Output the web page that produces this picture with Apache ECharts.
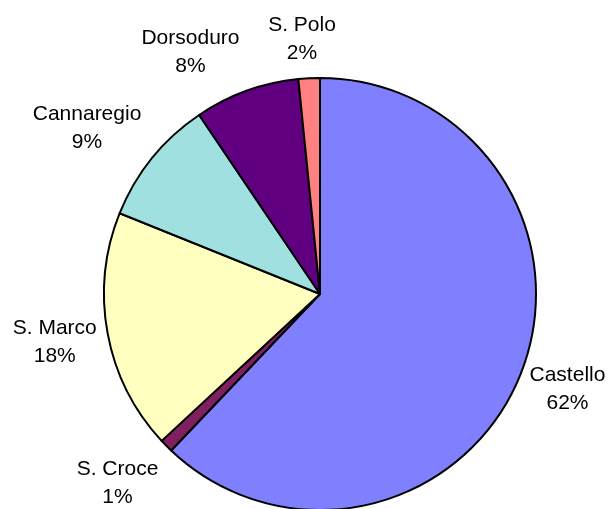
<!DOCTYPE html>
<html>
<head>
<meta charset="utf-8">
<script src="https://cdn.jsdelivr.net/npm/echarts@6/dist/echarts.min.js"></script>
<style>html,body{margin:0;padding:0;background:#fff;}#c{width:610px;height:509px;}</style>
</head>
<body>
<div id="c"></div>
<script>
// Data
var names = ['Castello', 'S. Croce', 'S. Marco', 'Cannaregio', 'Dorsoduro', 'S. Polo'];
var values = [62.1, 1.0, 18.0, 9.45, 7.85, 1.6];

// Styles (per slice)
var colors = ['#8080FF', '#802060', '#FFFFC0', '#A0E0E0', '#600080', '#FF8080'];
var labelLen = [39.5, 53.3, 51.7, 47.5, 41.3, 39.1];
var labelLen2 = [10.2, 10.9, 2, 28.1, 42, 5.2];

var data = names.map(function (n, i) {
  return {
    name: n,
    value: values[i],
    itemStyle: { color: colors[i] },
    labelLine: { show: false, length: labelLen[i], length2: labelLen2[i] }
  };
});

var chart = echarts.init(document.getElementById('c'), null, { renderer: 'canvas' });
chart.setOption({
  backgroundColor: '#ffffff',
  animation: false,
  series: [{
    type: 'pie',
    center: [320, 294],
    radius: 216,
    startAngle: 90,
    clockwise: true,
    avoidLabelOverlap: false,
    percentPrecision: 0,
    data: data,
    itemStyle: { borderColor: '#000', borderWidth: 2 },
    emphasis: { disabled: true },
    label: {
      show: true,
      position: 'outside',
      distanceToLabelLine: 0,
      formatter: '{b}\n{d}%',
      fontFamily: 'Liberation Sans, Arial, sans-serif',
      fontSize: 21,
      lineHeight: 28,
      color: '#000'
    },
    labelLine: { show: false },
    labelLayout: function () {
      return { align: 'center', verticalAlign: 'middle' };
    }
  }]
});
</script>
</body>
</html>
